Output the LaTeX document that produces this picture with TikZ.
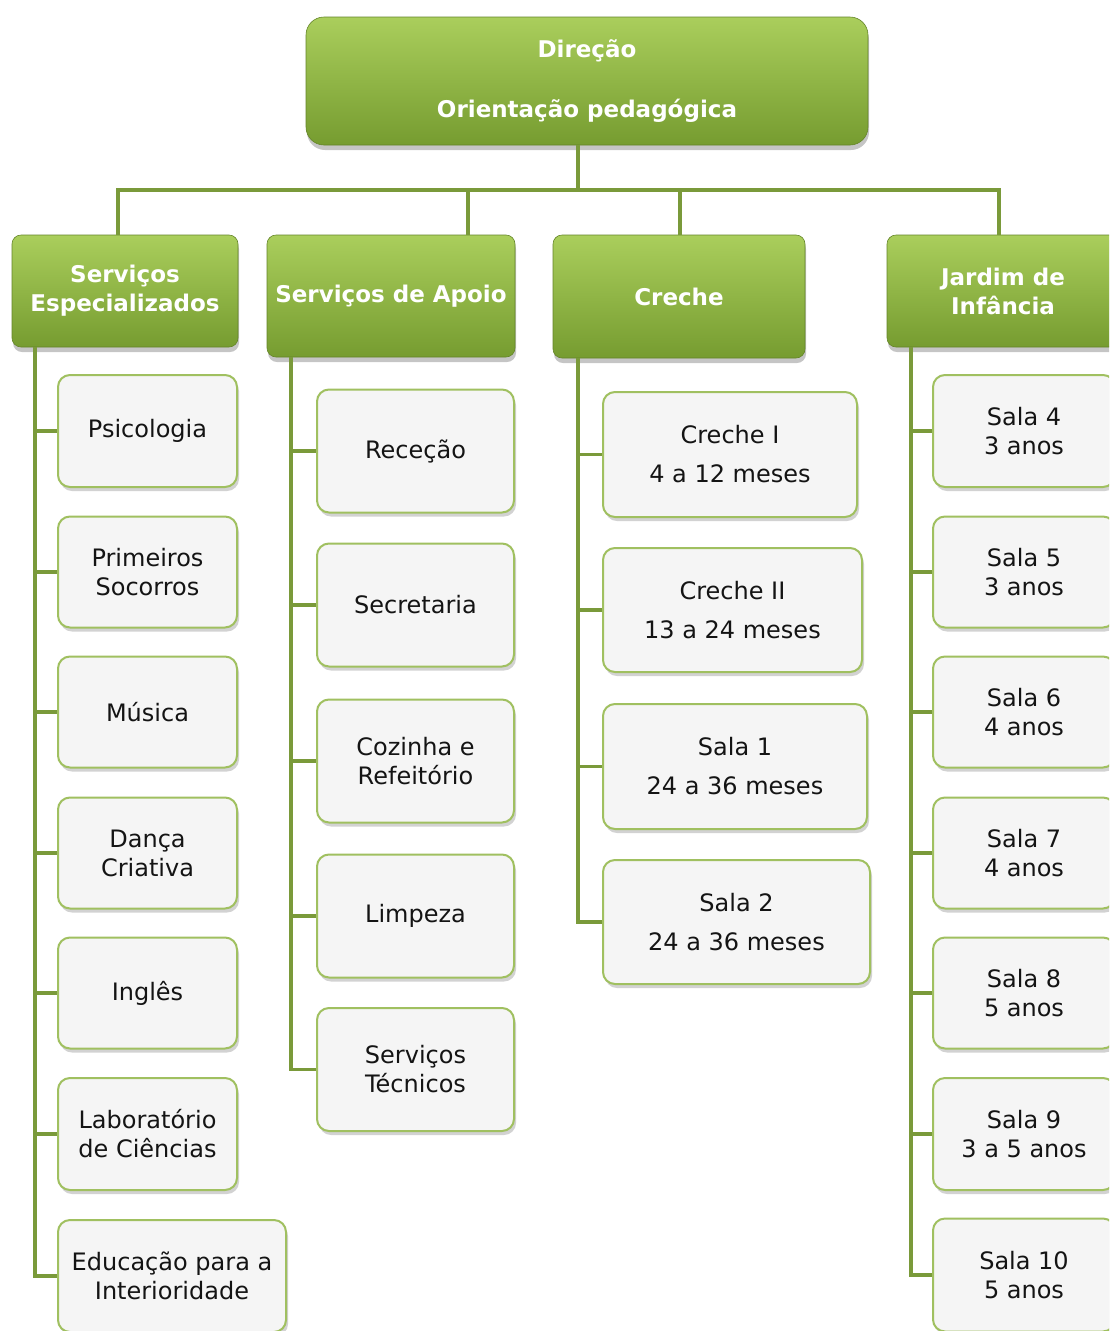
\documentclass[tikz,border=0pt]{standalone}
\usepackage{fontspec}
\setmainfont{DejaVu Sans}
\usetikzlibrary{shadows}
\definecolor{gtop}{RGB}{170,206,92}
\definecolor{gbot}{RGB}{118,156,48}
\definecolor{conncol}{RGB}{122,154,58}
\definecolor{cborder}{RGB}{160,192,96}
\definecolor{cfill}{RGB}{245,245,245}
\definecolor{ctext}{RGB}{20,20,20}
\tikzset{
 headbox/.style={rounded corners=9pt, top color=gtop, bottom color=gbot, draw=gbot!85!black, line width=0.6pt, text=white, font=\fontsize{23}{29}\selectfont\bfseries, align=center, inner sep=0pt, drop shadow={shadow xshift=1pt, shadow yshift=-5pt, opacity=0.45}},
 childbox/.style={rounded corners=12pt, fill=cfill, draw=cborder, line width=2pt, text=ctext, font=\fontsize{24}{29}\selectfont, align=center, inner sep=0pt, drop shadow={shadow xshift=2pt, shadow yshift=-4pt, opacity=0.35}},
 conn/.style={draw=conncol, line width=3.8pt},
}
\begin{document}
\begin{tikzpicture}[x=1pt,y=-1pt]
\useasboundingbox (0,0) rectangle (1109,1331);
\clip (0,0) rectangle (1109,1331);
\fill[white] (0,0) rectangle (1109,1331);

% top
\node[headbox, rounded corners=18pt, minimum width=562pt, minimum height=128pt] (top) at (587,81) {Direção\\[31pt]Orientação pedagógica};

% headers
\node[headbox, minimum width=226pt, minimum height=112pt] (h1) at (125,291) {Serviços\\Especializados};
\node[headbox, minimum width=248pt, minimum height=122pt] (h2) at (391,296) {Serviços de Apoio};
\node[headbox, minimum width=252pt, minimum height=123pt] (h3) at (679,296.5) {Creche};
\node[headbox, minimum width=232pt, minimum height=112pt] (h4) at (1003,291) {Jardim de\hspace{8pt}\\Infância\hspace{8pt}};

% column 1
\node[childbox, minimum width=179pt, minimum height=112pt] (psi) at (147.5,431) {Psicologia};
\node[childbox, minimum width=179pt, minimum height=111pt] (pso) at (147.5,572) {Primeiros\\Socorros};
\node[childbox, minimum width=179pt, minimum height=111pt] (mus) at (147.5,712) {Música};
\node[childbox, minimum width=179pt, minimum height=111pt] (dan) at (147.5,853) {Dança\\Criativa};
\node[childbox, minimum width=179pt, minimum height=111pt] (ing) at (147.5,993) {Inglês};
\node[childbox, minimum width=179pt, minimum height=112pt] (lab) at (147.5,1134) {Laboratório\\de Ciências};
\node[childbox, minimum width=228pt, minimum height=112pt] (edu) at (172,1276) {Educação para a\\Interioridade};

% column 2
\node[childbox, minimum width=197pt, minimum height=123pt] (rec) at (415.5,451) {Receção};
\node[childbox, minimum width=197pt, minimum height=123pt] (sec) at (415.5,605) {Secretaria};
\node[childbox, minimum width=197pt, minimum height=123pt] (coz) at (415.5,761) {Cozinha e\\Refeitório};
\node[childbox, minimum width=197pt, minimum height=123pt] (lim) at (415.5,916) {Limpeza};
\node[childbox, minimum width=197pt, minimum height=123pt] (tec) at (415.5,1069.5) {Serviços\\Técnicos};

% column 3
\node[childbox, minimum width=254pt, minimum height=125pt] (cr1) at (730,454.5) {Creche I\\[10pt]4 a 12 meses};
\node[childbox, minimum width=259pt, minimum height=124pt] (cr2) at (732.5,610) {Creche II\\[10pt]13 a 24 meses};
\node[childbox, minimum width=264pt, minimum height=125pt] (sa1) at (735,766.5) {Sala 1\\[10pt]24 a 36 meses};
\node[childbox, minimum width=267pt, minimum height=124pt] (sa2) at (736.5,922) {Sala 2\\[10pt]24 a 36 meses};

% column 4
\node[childbox, minimum width=182pt, minimum height=112pt] (s4) at (1024,431) {Sala 4\\3 anos};
\node[childbox, minimum width=182pt, minimum height=111pt] (s5) at (1024,572) {Sala 5\\3 anos};
\node[childbox, minimum width=182pt, minimum height=111pt] (s6) at (1024,712) {Sala 6\\4 anos};
\node[childbox, minimum width=182pt, minimum height=111pt] (s7) at (1024,853) {Sala 7\\4 anos};
\node[childbox, minimum width=182pt, minimum height=111pt] (s8) at (1024,993) {Sala 8\\5 anos};
\node[childbox, minimum width=182pt, minimum height=112pt] (s9) at (1024,1134) {Sala 9\\3 a 5 anos};
\node[childbox, minimum width=182pt, minimum height=113pt] (s10) at (1024,1275) {Sala 10\\5 anos};

% top connectors
\draw[conn] ([xshift=-9pt]top.south) -- ++(0,45) -| ([xshift=-7pt]h1.north);
\draw[conn] ([xshift=-9pt]top.south) -- ++(0,45) -| ([xshift=77pt]h2.north);
\draw[conn] ([xshift=-9pt]top.south) -- ++(0,45) -| ([xshift=1pt]h3.north);
\draw[conn] ([xshift=-9pt]top.south) -- ++(0,45) -| ([xshift=-4pt]h4.north);

% column connectors
\foreach \c in {psi,pso,mus,dan,ing,lab,edu}
  \draw[conn] ([xshift=23pt]h1.south west) |- (\c.west);
\foreach \c in {rec,sec,coz,lim,tec}
  \draw[conn] ([xshift=24pt]h2.south west) |- (\c.west);
\foreach \c in {cr1,cr2,sa1,sa2}
  \draw[conn] ([xshift=25pt]h3.south west) |- (\c.west);
\foreach \c in {s4,s5,s6,s7,s8,s9,s10}
  \draw[conn] ([xshift=24pt]h4.south west) |- (\c.west);
\end{tikzpicture}
\end{document}
